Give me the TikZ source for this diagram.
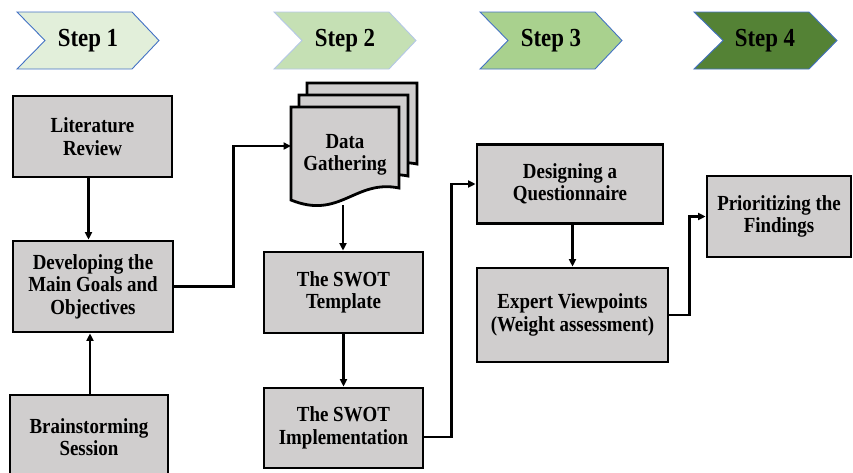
\documentclass[tikz,border=0pt]{standalone}
\usepackage{fontspec}
\setmainfont{Liberation Serif}[FakeStretch=0.88]
\usetikzlibrary{arrows.meta,calc}
\definecolor{sone}{HTML}{E2EFDA}
\definecolor{stwo}{HTML}{C5E0B4}
\definecolor{sthree}{HTML}{A9D18E}
\definecolor{sfour}{HTML}{548235}
\definecolor{chevline}{HTML}{4472C4}
\definecolor{chevlinelight}{HTML}{B4C7E7}
\definecolor{boxgray}{HTML}{D0CECE}
\tikzset{
  boxnode/.style={draw=black, line width=2.8pt, fill=boxgray, align=center, inner sep=0pt,
    font=\fontsize{21.5}{22.5}\selectfont\bfseries},
  steptext/.style={font=\fontsize{26}{27}\selectfont\bfseries, inner sep=0pt},
  chev/.style={line width=0.9pt, draw=chevline},
  arr/.style={line width=2.5pt, -{Triangle[length=7.5pt,width=7pt]}},
  docshape/.style={draw=black, line width=2.8pt, fill=boxgray, line join=miter}
}
\begin{document}
\begin{tikzpicture}[x=1pt,y=-1pt]
\useasboundingbox (0,0) rectangle (853,472);
% chevrons
\draw[chev, fill=sone] (17,12) -- (132,12) -- (159,40.5) -- (132,69) -- (17,69) -- (45,40.5) -- cycle;
\node[steptext] (s1) at (88,40.5) {Step 1};
\draw[chev, draw=chevlinelight, fill=stwo] (274,12) -- (389,12) -- (416,40.5) -- (389,69) -- (274,69) -- (302,40.5) -- cycle;
\node[steptext] (s2) at (345,40.5) {Step 2};
\draw[chev, fill=sthree] (480,12) -- (595,12) -- (622,40.5) -- (595,69) -- (480,69) -- (508,40.5) -- cycle;
\node[steptext] (s3) at (551,40.5) {Step 3};
\draw[chev, fill=sfour] (694,12) -- (809,12) -- (837,40.5) -- (809,69) -- (694,69) -- (723,40.5) -- cycle;
\node[steptext] (s4) at (765,40.5) {Step 4};

% column 1
\node[boxnode, minimum width=159pt, minimum height=81pt] (lit) at (92.5,136.5) {Literature\\Review};
\node[boxnode, minimum width=160pt, minimum height=91pt] (dev) at (93,286.5) {Developing the\\Main Goals and\\Objectives};
\node[boxnode, minimum width=158pt, minimum height=84pt] (brain) at (89,437) {Brainstorming\\Session};

% document stack
\draw[docshape] (307,83) -- (417,83) -- (417,164) .. controls (373,155) and (358,196) .. (307,176) -- cycle;
\draw[docshape] (299,95) -- (408,95) -- (408,176) .. controls (364,167) and (349,208) .. (299,188) -- cycle;
\draw[docshape] (291,107) -- (399,107) -- (399,188) .. controls (355,179) and (340,220) .. (291,200) -- cycle;
\node[font=\fontsize{21.5}{22.5}\selectfont\bfseries, align=center, inner sep=0pt] (data) at (345,155) {Data\\Gathering};
\coordinate (datain) at (291,146);
\coordinate (dataout) at (343,205);

% column 2
\node[boxnode, minimum width=159pt, minimum height=81pt] (tmpl) at (343.5,292.5) {The SWOT\\Template};
\node[boxnode, minimum width=159pt, minimum height=80pt] (impl) at (343.5,428) {The SWOT\\Implementation};

% column 3
\node[boxnode, minimum width=186pt, minimum height=79pt] (design) at (570,184) {Designing a\\Questionnaire};
\node[boxnode, minimum width=191pt, minimum height=94pt] (expert) at (572.5,315) {Expert Viewpoints\\(Weight assessment)};

% column 4
\node[boxnode, minimum width=144pt, minimum height=81pt] (prior) at (779,216.5) {Prioritizing the\\Findings};

% connectors
\draw[arr] ([xshift=-4pt]lit.south) -- ([xshift=-4pt]lit.south |- dev.north);
\draw[arr] ([xshift=1pt]brain.north) -- ([xshift=1pt]brain.north |- dev.south);
\draw[arr] (dev.east) -- ++(59,0) |- (datain);
\draw[arr] (dataout) -- (dataout |- tmpl.north);
\draw[arr] (tmpl.south) -- (impl.north);
\draw[arr] ([yshift=-9pt]impl.east) -- ++(27,0) |- (design.west);
\draw[arr] (expert.north |- design.south) -- (expert.north);
\draw[arr] (expert.east) -- ++(20,0) |- (prior.west);
\end{tikzpicture}
\end{document}
